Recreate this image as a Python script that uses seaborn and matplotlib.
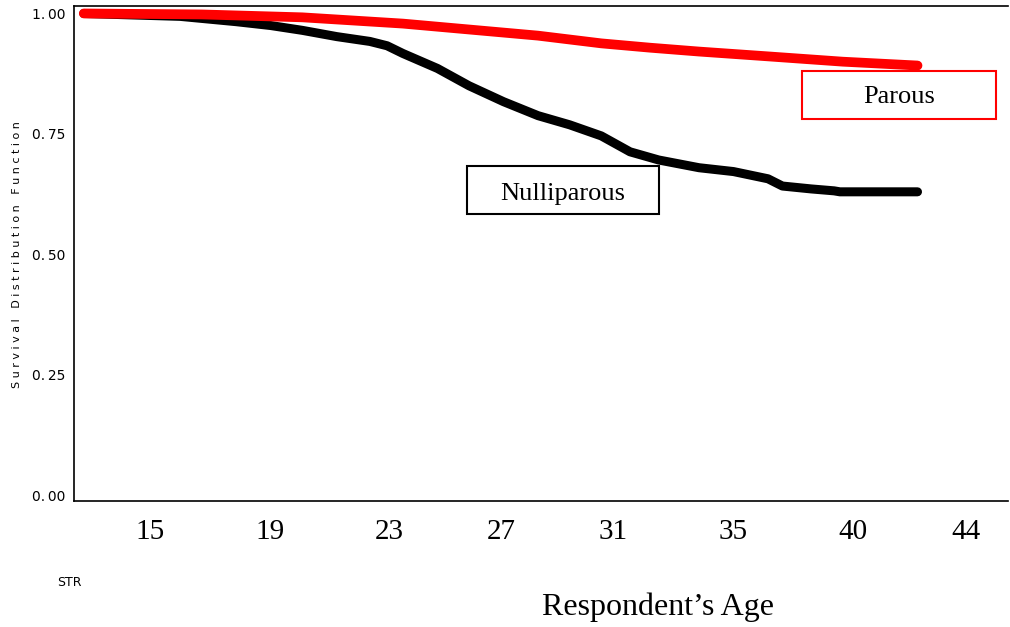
import pandas as pd
import seaborn as sns
import matplotlib.pyplot as plt
from matplotlib.patches import Rectangle

# Survival curves (age in years, survival proportion)
age_nulli = [12.9, 16.25, 18.2, 19.4, 20.5, 21.7, 22.85, 23.45, 24.0, 25.2, 26.3,
             27.5, 28.7, 29.8, 30.9, 31.9, 32.9, 34.3, 35.5, 36.7, 37.2, 38.2,
             39.0, 39.2, 41.9]
surv_nulli = [1.0, 0.994, 0.983, 0.975, 0.965, 0.952, 0.942, 0.933, 0.917, 0.886, 0.850,
              0.817, 0.788, 0.769, 0.746, 0.713, 0.696, 0.680, 0.672, 0.657, 0.642, 0.636,
              0.632, 0.630, 0.630]

age_parous = [12.9, 17.0, 20.5, 24.0, 28.7, 30.9, 32.6, 34.3, 36.7, 39.3, 41.9]
surv_parous = [1.0, 0.998, 0.992, 0.979, 0.954, 0.938, 0.929, 0.921, 0.911, 0.900, 0.892]

# Axis ticks and the age labels pasted under the axis
x_ticks = [13, 17, 21, 25, 29, 33, 37, 41, 45]
age_labels = ["15", "19", "23", "27", "31", "35", "40", "44"]
age_label_pos = [15.2, 19.38, 23.51, 27.41, 31.31, 35.48, 39.65, 43.58]
y_ticks = [0.0, 0.25, 0.50, 0.75, 1.00]
y_labels = ["0.\u200900", "0.\u200925", "0.\u200950", "0.\u200975", "1.\u200900"]

df_nulli = pd.DataFrame({"age": age_nulli, "surv": surv_nulli})
df_parous = pd.DataFrame({"age": age_parous, "surv": surv_parous})

sns.set_style("white")
plt.rcParams["font.family"] = ["DejaVu Sans"]
plt.rcParams["text.color"] = "black"
plt.rcParams["xtick.color"] = "black"
plt.rcParams["ytick.color"] = "black"

fig = plt.figure(figsize=(10.1, 6.27), dpi=100)
ax = fig.add_axes([0.0733, 0.201, 0.9248, 0.7895])

sns.lineplot(data=df_nulli, x="age", y="surv", color="black", lw=6.5,
             solid_capstyle="round", solid_joinstyle="round", ax=ax)
sns.lineplot(data=df_parous, x="age", y="surv", color="#ff0000", lw=7,
             solid_capstyle="round", solid_joinstyle="round", ax=ax)

ax.set_xlim(12.56, 45.05)
ax.set_ylim(-0.0114, 1.0156)
ax.set_xlabel("")
ax.set_ylabel("")

ax.set_xticks(x_ticks)
ax.set_xticklabels([""] * len(x_ticks))
ax.tick_params(axis="x", which="major", direction="out", length=3, width=1, color="black")
ax.set_xticks(age_label_pos, minor=True)
ax.set_xticklabels(age_labels, minor=True, family="Liberation Serif", fontsize=21)
ax.tick_params(axis="x", which="minor", length=0, pad=13)

ax.set_yticks(y_ticks)
ax.set_yticklabels(y_labels, fontsize=10)
ax.tick_params(axis="y", direction="out", length=5, width=1, color="black", pad=1)

for side in ["left", "bottom", "top"]:
    ax.spines[side].set_visible(True)
    ax.spines[side].set_color("black")
    ax.spines[side].set_linewidth(1.2)
ax.spines["right"].set_visible(False)

# spaced-out SAS style axis title
ylab = "   ".join(" ".join(w) for w in "Survival Distribution Function".split())
fig.text(17 / 1010, 1 - 255 / 627, ylab, rotation=90, fontsize=8,
         ha="center", va="center")

fig.text(658 / 1010, 1 - 607 / 627, "Respondent\u2019s Age", family="Liberation Serif",
         fontsize=23, ha="center", va="center")
fig.text(57 / 1010, 1 - 583 / 627, "STR", fontsize=9, ha="left", va="center")

# label boxes
fig.patches.append(Rectangle((802 / 1010, 1 - 119 / 627), 194 / 1010, 48 / 627,
                             transform=fig.transFigure, fill=False,
                             edgecolor="#ff0000", lw=1.5))
fig.text(899 / 1010, 1 - 97 / 627, "Parous", family="Liberation Serif",
         fontsize=19, ha="center", va="center")
fig.patches.append(Rectangle((467 / 1010, 1 - 214 / 627), 192 / 1010, 48 / 627,
                             transform=fig.transFigure, fill=False,
                             edgecolor="black", lw=1.5))
fig.text(563 / 1010, 1 - 194 / 627, "Nulliparous", family="Liberation Serif",
         fontsize=19, ha="center", va="center")

fig.savefig("out.png", dpi=100)
